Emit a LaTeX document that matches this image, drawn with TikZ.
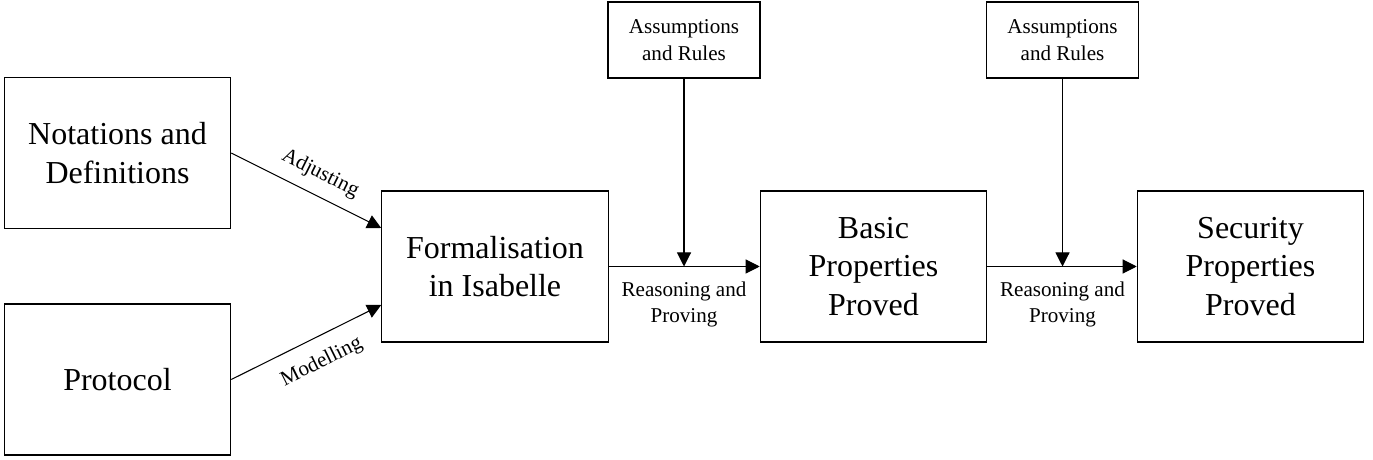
\documentclass[tikz,border=0pt]{standalone}
\usepackage{fontspec}
\setmainfont{Liberation Serif}
\usetikzlibrary{arrows.meta}

\tikzset{
  bigbox/.style={draw, line width=0.6pt, minimum width=4.53cm, minimum height=3.02cm,
    inner sep=0pt, align=center, font=\fontsize{18.2}{22}\selectfont},
  rulebox/.style={draw, line width=0.6pt, minimum width=3.04cm, minimum height=1.52cm,
    inner sep=0pt, align=center, font=\fontsize{12}{15}\selectfont},
  flow/.style={line width=0.6pt, -{Triangle[length=8pt,width=8pt]}},
  lbl/.style={font=\fontsize{12}{15}\selectfont, align=center}
}

\begin{document}
\begin{tikzpicture}
\useasboundingbox (0,0) rectangle (27.46,9.18);

\node[bigbox] (notes) at (2.35,6.12) {Notations and\\Definitions};
\node[bigbox] (proto) at (2.35,1.59) {Protocol};
\node[bigbox] (formal) at (9.9,3.85) {Formalisation\\in Isabelle};
\node[bigbox] (basic) at (17.47,3.85) {Basic\\Properties\\Proved};
\node[bigbox] (secur) at (25.01,3.85) {Security\\Properties\\Proved};
\node[rulebox] (rules1) at (13.68,8.38) {Assumptions\\and Rules};
\node[rulebox] (rules2) at (21.25,8.38) {Assumptions\\and Rules};

% inputs of the formalisation
\draw[flow] (notes.east) -- node[lbl,sloped,above=3pt,pos=.53] {Adjusting} ([yshift=.77cm]formal.west);
\draw[flow] (proto.east) -- node[lbl,sloped,below=5pt,pos=.53] {Modelling} ([yshift=-.77cm]formal.west);

% proving steps
\draw[flow] (formal.east) -- (basic.west);
\draw[flow] (rules1.south) -- (rules1.south |- formal.east) node[lbl,below=5pt] {Reasoning and\\Proving};
\draw[flow] (basic.east) -- (secur.west);
\draw[flow] (rules2.south) -- (rules2.south |- basic.east) node[lbl,below=5pt] {Reasoning and\\Proving};

\end{tikzpicture}
\end{document}
